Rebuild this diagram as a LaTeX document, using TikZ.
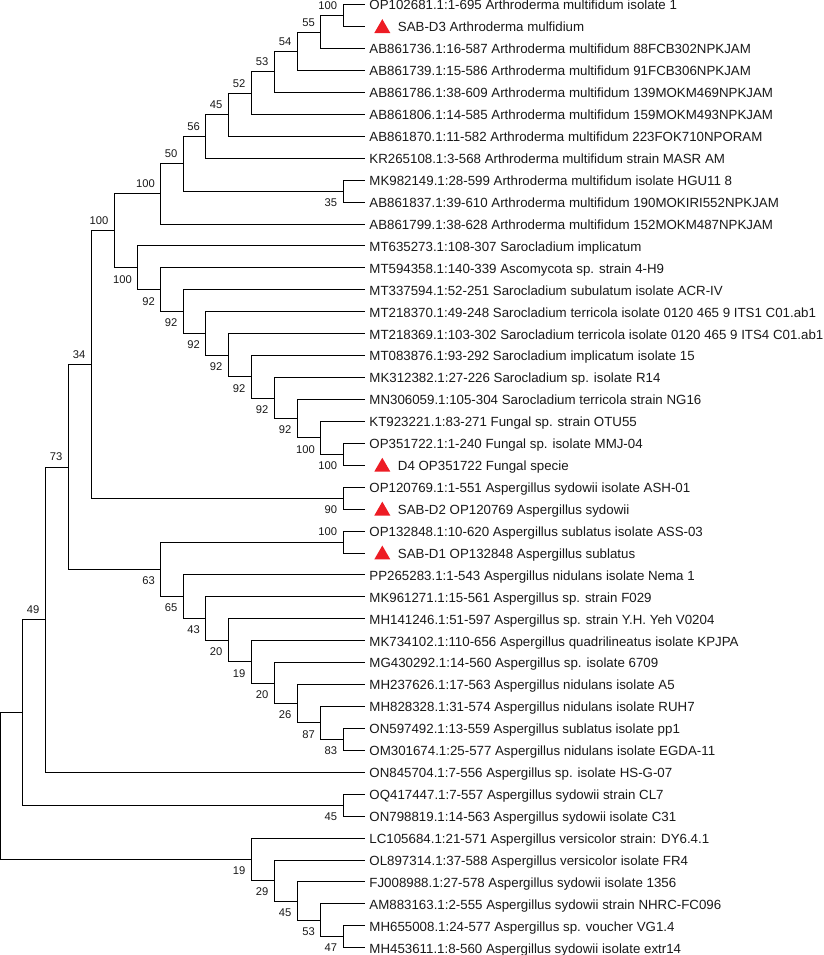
\documentclass[tikz,border=0pt]{standalone}
\usepackage{fontspec}
\setmainfont{Liberation Sans}
\usetikzlibrary{positioning}
\usetikzlibrary{shapes.geometric}
\definecolor{markred}{RGB}{237,28,36}

\begin{document}
\begin{tikzpicture}[x=1pt,y=-1pt,line width=0.9pt,
  branch/.style={to path={|- (\tikztotarget)}},
  leaf/.style={anchor=west,inner sep=0pt,text height=10.6pt,text depth=0pt,font=\fontsize{13.3}{15}\selectfont,text=black!90},
  supp/.style={inner sep=0pt,font=\fontsize{11.2}{12}\selectfont,text=black!90},
  al/.style={supp,anchor=south east,xshift=-5.5pt,yshift=5.5pt},
  bl/.style={supp,anchor=north east,xshift=-5.5pt,yshift=-7pt},
  redtri/.style={regular polygon,regular polygon sides=3,fill=markred,draw=none,inner sep=0pt,minimum size=18.5pt}]

\useasboundingbox (0,0) rectangle (823,955);

% leaf tips
\coordinate (t1) at (365,4.7);
\coordinate (t2) at (365,26.6);
\coordinate (t3) at (365,48.6);
\coordinate (t4) at (365,70.5);
\coordinate (t5) at (365,92.4);
\coordinate (t6) at (365,114.4);
\coordinate (t7) at (365,136.3);
\coordinate (t8) at (365,158.2);
\coordinate (t9) at (365,180.1);
\coordinate (t10) at (365,202.1);
\coordinate (t11) at (365,224.0);
\coordinate (t12) at (365,245.9);
\coordinate (t13) at (365,267.9);
\coordinate (t14) at (365,289.8);
\coordinate (t15) at (365,311.7);
\coordinate (t16) at (365,333.7);
\coordinate (t17) at (365,355.6);
\coordinate (t18) at (365,377.5);
\coordinate (t19) at (365,399.4);
\coordinate (t20) at (365,421.4);
\coordinate (t21) at (365,443.3);
\coordinate (t22) at (365,465.2);
\coordinate (t23) at (365,487.2);
\coordinate (t24) at (365,509.1);
\coordinate (t25) at (365,531.0);
\coordinate (t26) at (365,553.0);
\coordinate (t27) at (365,574.9);
\coordinate (t28) at (365,596.8);
\coordinate (t29) at (365,618.7);
\coordinate (t30) at (365,640.7);
\coordinate (t31) at (365,662.6);
\coordinate (t32) at (365,684.5);
\coordinate (t33) at (365,706.5);
\coordinate (t34) at (365,728.4);
\coordinate (t35) at (365,750.3);
\coordinate (t36) at (365,772.3);
\coordinate (t37) at (365,794.2);
\coordinate (t38) at (365,816.1);
\coordinate (t39) at (365,838.0);
\coordinate (t40) at (365,860.0);
\coordinate (t41) at (365,881.9);
\coordinate (t42) at (365,903.8);
\coordinate (t43) at (365,925.8);
\coordinate (t44) at (365,947.7);

% internal nodes
\coordinate (A1) at (343,15.7);
\coordinate (A2) at (320.7,32.1);
\coordinate (A3) at (297.3,51.3);
\coordinate (A4) at (274.3,71.9);
\coordinate (A5) at (251.3,93.1);
\coordinate (A6) at (228.3,114.7);
\coordinate (A7) at (205.7,136.5);
\coordinate (A8) at (343,191.1);
\coordinate (A9) at (183.3,163.8);
\coordinate (A10) at (160.7,193.9);
\coordinate (C10) at (343,454.3);
\coordinate (C9) at (320.7,437.8);
\coordinate (C8) at (297.3,418.6);
\coordinate (C7) at (274.3,398.1);
\coordinate (C6) at (251.3,376.8);
\coordinate (C5) at (228.3,355.2);
\coordinate (C4) at (205.7,333.5);
\coordinate (C3) at (183.3,311.7);
\coordinate (C2) at (160.7,289.8);
\coordinate (C1) at (137.7,267.9);
\coordinate (B) at (114.3,230.9);
\coordinate (E) at (343,498.1);
\coordinate (D) at (91.3,364.5);
\coordinate (F1) at (343,542.0);
\coordinate (F10) at (343,739.4);
\coordinate (F9) at (320.7,722.9);
\coordinate (F8) at (297.3,703.7);
\coordinate (F7) at (274.3,683.2);
\coordinate (F6) at (251.3,661.9);
\coordinate (F5) at (228.3,640.3);
\coordinate (F4) at (205.7,618.6);
\coordinate (F3) at (183.3,596.7);
\coordinate (F2) at (160.7,569.4);
\coordinate (G) at (68.3,467.0);
\coordinate (H) at (45.3,619.6);
\coordinate (J) at (343,805.1);
\coordinate (I) at (22.3,712.4);
\coordinate (K5) at (343,936.7);
\coordinate (K4) at (320.7,920.3);
\coordinate (K3) at (297.3,901.1);
\coordinate (K2) at (274.3,880.5);
\coordinate (K) at (251.3,859.3);
\coordinate (R) at (0.5,785.8);

% branches
\path (A1) edge[branch] (t1) edge[branch] (t2)
      (A2) edge[branch] (A1) edge[branch] (t3)
      (A3) edge[branch] (A2) edge[branch] (t4)
      (A4) edge[branch] (A3) edge[branch] (t5)
      (A5) edge[branch] (A4) edge[branch] (t6)
      (A6) edge[branch] (A5) edge[branch] (t7)
      (A7) edge[branch] (A6) edge[branch] (t8)
      (A8) edge[branch] (t9) edge[branch] (t10)
      (A9) edge[branch] (A7) edge[branch] (A8)
      (A10) edge[branch] (A9) edge[branch] (t11)
      (C10) edge[branch] (t21) edge[branch] (t22)
      (C9) edge[branch] (t20) edge[branch] (C10)
      (C8) edge[branch] (t19) edge[branch] (C9)
      (C7) edge[branch] (t18) edge[branch] (C8)
      (C6) edge[branch] (t17) edge[branch] (C7)
      (C5) edge[branch] (t16) edge[branch] (C6)
      (C4) edge[branch] (t15) edge[branch] (C5)
      (C3) edge[branch] (t14) edge[branch] (C4)
      (C2) edge[branch] (t13) edge[branch] (C3)
      (C1) edge[branch] (t12) edge[branch] (C2)
      (B) edge[branch] (A10) edge[branch] (C1)
      (E) edge[branch] (t23) edge[branch] (t24)
      (D) edge[branch] (B) edge[branch] (E)
      (F1) edge[branch] (t25) edge[branch] (t26)
      (F10) edge[branch] (t34) edge[branch] (t35)
      (F9) edge[branch] (t33) edge[branch] (F10)
      (F8) edge[branch] (t32) edge[branch] (F9)
      (F7) edge[branch] (t31) edge[branch] (F8)
      (F6) edge[branch] (t30) edge[branch] (F7)
      (F5) edge[branch] (t29) edge[branch] (F6)
      (F4) edge[branch] (t28) edge[branch] (F5)
      (F3) edge[branch] (t27) edge[branch] (F4)
      (F2) edge[branch] (F1) edge[branch] (F3)
      (G) edge[branch] (D) edge[branch] (F2)
      (H) edge[branch] (G) edge[branch] (t36)
      (J) edge[branch] (t37) edge[branch] (t38)
      (I) edge[branch] (H) edge[branch] (J)
      (K5) edge[branch] (t43) edge[branch] (t44)
      (K4) edge[branch] (t42) edge[branch] (K5)
      (K3) edge[branch] (t41) edge[branch] (K4)
      (K2) edge[branch] (t40) edge[branch] (K3)
      (K) edge[branch] (t39) edge[branch] (K2)
      (R) edge[branch] (I) edge[branch] (K);

% bootstrap values
\node[al] (sA1) at (A1) {100};
\node[al] (sA2) at (A2) {55};
\node[al] (sA3) at (A3) {54};
\node[al] (sA4) at (A4) {53};
\node[al] (sA5) at (A5) {52};
\node[al] (sA6) at (A6) {45};
\node[al] (sA7) at (A7) {56};
\node[bl] (sA8) at (A8) {35};
\node[al] (sA9) at (A9) {50};
\node[al] (sA10) at (A10) {100};
\node[al] (sB) at (B) {100};
\node[bl] (sC1) at (C1) {100};
\node[bl] (sC2) at (C2) {92};
\node[bl] (sC3) at (C3) {92};
\node[bl] (sC4) at (C4) {92};
\node[bl] (sC5) at (C5) {92};
\node[bl] (sC6) at (C6) {92};
\node[bl] (sC7) at (C7) {92};
\node[bl] (sC8) at (C8) {92};
\node[bl] (sC9) at (C9) {100};
\node[bl] (sC10) at (C10) {100};
\node[al] (sD) at (D) {34};
\node[bl] (sE) at (E) {90};
\node[al] (sF1) at (F1) {100};
\node[bl] (sF2) at (F2) {63};
\node[bl] (sF3) at (F3) {65};
\node[bl] (sF4) at (F4) {43};
\node[bl] (sF5) at (F5) {20};
\node[bl] (sF6) at (F6) {19};
\node[bl] (sF7) at (F7) {20};
\node[bl] (sF8) at (F8) {26};
\node[bl] (sF9) at (F9) {87};
\node[bl] (sF10) at (F10) {83};
\node[al] (sG) at (G) {73};
\node[al] (sH) at (H) {49};
\node[bl] (sJ) at (J) {45};
\node[bl] (sK) at (K) {19};
\node[bl] (sK2) at (K2) {29};
\node[bl] (sK3) at (K3) {45};
\node[bl] (sK4) at (K4) {53};
\node[bl] (sK5) at (K5) {47};

% own isolates
\node[redtri] (m2) at ([shift={(17.3,1.8)}]t2) {};
\node[redtri] (m22) at ([shift={(17.3,1.8)}]t22) {};
\node[redtri] (m24) at ([shift={(17.3,1.8)}]t24) {};
\node[redtri] (m26) at ([shift={(17.3,1.8)}]t26) {};

% taxa
\node[leaf, right=4pt of t1] (n1) {OP102681.1:1-695 Arthroderma multifidum isolate 1};
\node[leaf, right=32.5pt of t2] (n2) {SAB-D3 Arthroderma mulfidium};
\node[leaf, right=4pt of t3] (n3) {AB861736.1:16-587 Arthroderma multifidum 88FCB302NPKJAM};
\node[leaf, right=4pt of t4] (n4) {AB861739.1:15-586 Arthroderma multifidum 91FCB306NPKJAM};
\node[leaf, right=4pt of t5] (n5) {AB861786.1:38-609 Arthroderma multifidum 139MOKM469NPKJAM};
\node[leaf, right=4pt of t6] (n6) {AB861806.1:14-585 Arthroderma multifidum 159MOKM493NPKJAM};
\node[leaf, right=4pt of t7] (n7) {AB861870.1:11-582 Arthroderma multifidum 223FOK710NPORAM};
\node[leaf, right=4pt of t8] (n8) {KR265108.1:3-568 Arthroderma multifidum strain MASR AM};
\node[leaf, right=4pt of t9] (n9) {MK982149.1:28-599 Arthroderma multifidum isolate HGU11 8};
\node[leaf, right=4pt of t10] (n10) {AB861837.1:39-610 Arthroderma multifidum 190MOKIRI552NPKJAM};
\node[leaf, right=4pt of t11] (n11) {AB861799.1:38-628 Arthroderma multifidum 152MOKM487NPKJAM};
\node[leaf, right=4pt of t12] (n12) {MT635273.1:108-307 Sarocladium implicatum};
\node[leaf, right=4pt of t13] (n13) {MT594358.1:140-339 Ascomycota sp. strain 4-H9};
\node[leaf, right=4pt of t14] (n14) {MT337594.1:52-251 Sarocladium subulatum isolate ACR-IV};
\node[leaf, right=4pt of t15] (n15) {MT218370.1:49-248 Sarocladium terricola isolate 0120 465 9 ITS1 C01.ab1};
\node[leaf, right=4pt of t16] (n16) {MT218369.1:103-302 Sarocladium terricola isolate 0120 465 9 ITS4 C01.ab1};
\node[leaf, right=4pt of t17] (n17) {MT083876.1:93-292 Sarocladium implicatum isolate 15};
\node[leaf, right=4pt of t18] (n18) {MK312382.1:27-226 Sarocladium sp. isolate R14};
\node[leaf, right=4pt of t19] (n19) {MN306059.1:105-304 Sarocladium terricola strain NG16};
\node[leaf, right=4pt of t20] (n20) {KT923221.1:83-271 Fungal sp. strain OTU55};
\node[leaf, right=4pt of t21] (n21) {OP351722.1:1-240 Fungal sp. isolate MMJ-04};
\node[leaf, right=32.5pt of t22] (n22) {D4 OP351722 Fungal specie};
\node[leaf, right=4pt of t23] (n23) {OP120769.1:1-551 Aspergillus sydowii isolate ASH-01};
\node[leaf, right=32.5pt of t24] (n24) {SAB-D2 OP120769 Aspergillus sydowii};
\node[leaf, right=4pt of t25] (n25) {OP132848.1:10-620 Aspergillus sublatus isolate ASS-03};
\node[leaf, right=32.5pt of t26] (n26) {SAB-D1 OP132848 Aspergillus sublatus};
\node[leaf, right=4pt of t27] (n27) {PP265283.1:1-543 Aspergillus nidulans isolate Nema 1};
\node[leaf, right=4pt of t28] (n28) {MK961271.1:15-561 Aspergillus sp. strain F029};
\node[leaf, right=4pt of t29] (n29) {MH141246.1:51-597 Aspergillus sp. strain Y.H. Yeh V0204};
\node[leaf, right=4pt of t30] (n30) {MK734102.1:110-656 Aspergillus quadrilineatus isolate KPJPA};
\node[leaf, right=4pt of t31] (n31) {MG430292.1:14-560 Aspergillus sp. isolate 6709};
\node[leaf, right=4pt of t32] (n32) {MH237626.1:17-563 Aspergillus nidulans isolate A5};
\node[leaf, right=4pt of t33] (n33) {MH828328.1:31-574 Aspergillus nidulans isolate RUH7};
\node[leaf, right=4pt of t34] (n34) {ON597492.1:13-559 Aspergillus sublatus isolate pp1};
\node[leaf, right=4pt of t35] (n35) {OM301674.1:25-577 Aspergillus nidulans isolate EGDA-11};
\node[leaf, right=4pt of t36] (n36) {ON845704.1:7-556 Aspergillus sp. isolate HS-G-07};
\node[leaf, right=4pt of t37] (n37) {OQ417447.1:7-557 Aspergillus sydowii strain CL7};
\node[leaf, right=4pt of t38] (n38) {ON798819.1:14-563 Aspergillus sydowii isolate C31};
\node[leaf, right=4pt of t39] (n39) {LC105684.1:21-571 Aspergillus versicolor strain: DY6.4.1};
\node[leaf, right=4pt of t40] (n40) {OL897314.1:37-588 Aspergillus versicolor isolate FR4};
\node[leaf, right=4pt of t41] (n41) {FJ008988.1:27-578 Aspergillus sydowii isolate 1356};
\node[leaf, right=4pt of t42] (n42) {AM883163.1:2-555 Aspergillus sydowii strain NHRC-FC096};
\node[leaf, right=4pt of t43] (n43) {MH655008.1:24-577 Aspergillus sp. voucher VG1.4};
\node[leaf, right=4pt of t44] (n44) {MH453611.1:8-560 Aspergillus sydowii isolate extr14};

\end{tikzpicture}
\end{document}
